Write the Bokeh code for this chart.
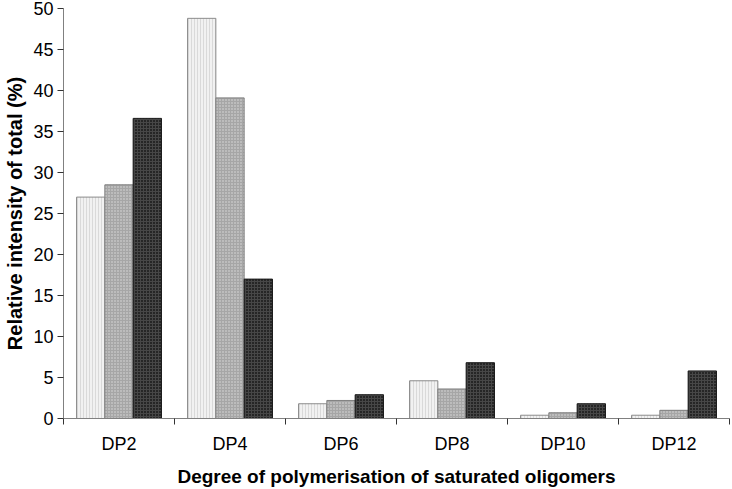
from bokeh.plotting import figure
from bokeh.models import Range1d, FixedTicker, ColumnDataSource
from bokeh.embed import file_html
from bokeh.resources import INLINE

categories = ["DP2", "DP4", "DP6", "DP8", "DP10", "DP12"]
series_a = [27.0, 48.8, 1.8, 4.6, 0.4, 0.4]
series_b = [28.5, 39.1, 2.2, 3.6, 0.7, 1.0]
series_c = [36.6, 17.0, 2.9, 6.8, 1.8, 5.8]
y_ticks = [0, 5, 10, 15, 20, 25, 30, 35, 40, 45, 50]

p = figure(width=730, height=489, output_backend="svg", toolbar_location=None,
           x_range=Range1d(0, len(categories)), y_range=Range1d(0, 50),
           min_border_left=63, min_border_right=1, min_border_top=8, min_border_bottom=71)
p.outline_line_color = None
p.xgrid.grid_line_color = None
p.ygrid.grid_line_color = None

centers = [i + 0.5 for i in range(len(categories))]
bw = 0.255
styles = [
    (series_a, -bw, "#f1f1f1", "#d9d9d9", "|", "#8c8c8c"),
    (series_b, 0.0, "#bcbcbc", "#a6a6a6", "+", "#808080"),
    (series_c, bw, "#262626", "#474747", "+", "#1a1a1a"),
]
for vals, off, fill, hcol, hpat, lcol in styles:
    src = ColumnDataSource(dict(x=[c + off for c in centers], top=vals))
    p.vbar(x="x", top="top", bottom=0, width=bw, source=src,
           fill_color=fill, line_color=lcol, line_width=1,
           hatch_pattern=hpat, hatch_color=hcol, hatch_scale=3, hatch_weight=1)

font = "Liberation Sans"
# x axis
xa = p.xaxis[0]
xa.ticker = FixedTicker(ticks=centers, minor_ticks=list(range(len(categories) + 1)))
xa.major_label_overrides = {c: cat for c, cat in zip(centers, categories)}
xa.major_tick_out = 0
xa.major_tick_in = 0
xa.minor_tick_out = 6
xa.minor_tick_in = 0
xa.minor_tick_line_color = "#333333"
xa.axis_line_color = "#808080"
xa.major_label_text_font = font
xa.major_label_text_font_size = "18px"
xa.major_label_text_color = "#000000"
xa.major_label_standoff = 9
xa.axis_label = "Degree of polymerisation of saturated oligomers"
xa.axis_label_text_font = font
xa.axis_label_text_font_size = "19px"
xa.axis_label_text_font_style = "bold"
xa.axis_label_text_color = "#000000"
xa.axis_label_standoff = 9

# y axis
ya = p.yaxis[0]
ya.ticker = FixedTicker(ticks=y_ticks, minor_ticks=[])
ya.major_tick_out = 6
ya.major_tick_in = 0
ya.major_tick_line_color = "#333333"
ya.minor_tick_line_color = None
ya.axis_line_color = "#808080"
ya.major_label_text_font = font
ya.major_label_text_font_size = "18px"
ya.major_label_text_color = "#000000"
ya.major_label_standoff = 4
ya.axis_label = "Relative intensity of total (%)"
ya.axis_label_text_font = font
ya.axis_label_text_font_size = "20px"
ya.axis_label_text_font_style = "bold"
ya.axis_label_text_color = "#000000"
ya.axis_label_standoff = 4

open("out.html", "w").write(file_html(p, INLINE))
